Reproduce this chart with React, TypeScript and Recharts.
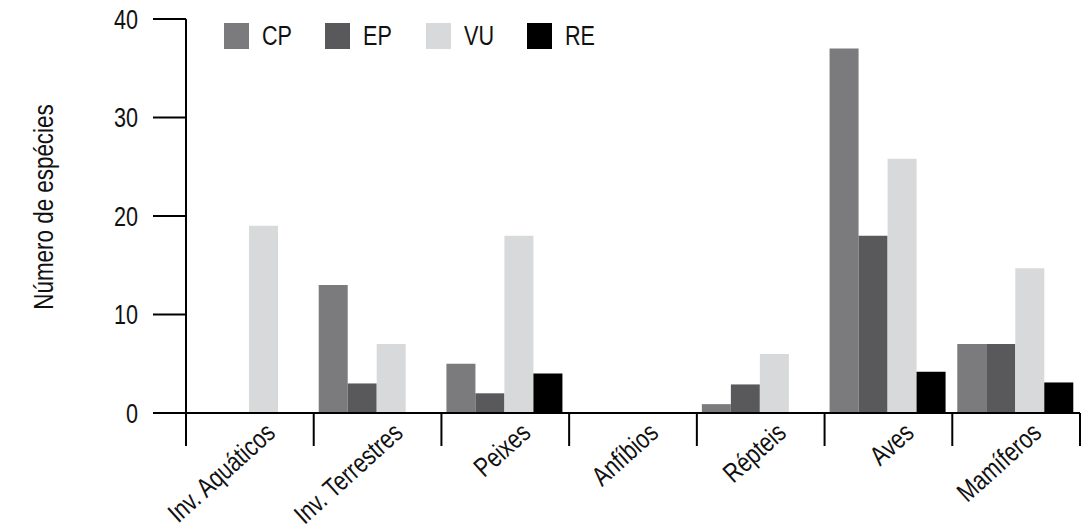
import { BarChart, Bar, XAxis, YAxis } from 'recharts'

const categories = [
  'Inv. Aquáticos',
  'Inv. Terrestres',
  'Peixes',
  'Anfíbios',
  'Répteis',
  'Aves',
  'Mamíferos',
]
const cpValues = [0, 13, 5, 0, 0.9, 37, 7]
const epValues = [0, 3, 2, 0, 2.9, 18, 7]
const vuValues = [19, 7, 18, 0, 6, 25.8, 14.7]
const reValues = [0, 0, 4, 0, 0, 4.2, 3.1]
const yTicks = [0, 10, 20, 30, 40]

const series = [
  { key: 'CP', color: '#7b7b7d' },
  { key: 'EP', color: '#59595b' },
  { key: 'VU', color: '#d8d9db' },
  { key: 'RE', color: '#000000' },
]

const data = categories.map((name, i) => ({
  name,
  CP: cpValues[i],
  EP: epValues[i],
  VU: vuValues[i],
  RE: reValues[i],
}))

// condensed look: regular sans squeezed horizontally
const FONT = "'Liberation Sans', Arial, sans-serif"
const SQUEEZE = 0.8
const FONT_SIZE = 27
const WIDTH = 1090
const HEIGHT = 531
const PLOT_LEFT = 186
const PLOT_RIGHT = 10
const BAND = (WIDTH - PLOT_LEFT - PLOT_RIGHT) / categories.length

function CategoryTick({ x, y, payload, index }: any) {
  const half = BAND / 2
  const tx = x + 27
  const ty = y + 22
  return (
    <g>
      <line x1={x - half} x2={x - half} y1={y} y2={y + 33} stroke="#000" strokeWidth={2} />
      {index === categories.length - 1 && (
        <line x1={x + half} x2={x + half} y1={y} y2={y + 33} stroke="#000" strokeWidth={2} />
      )}
      <text
        textAnchor="end"
        transform={`translate(${tx}, ${ty}) rotate(-42) scale(${SQUEEZE}, 1)`}
        fontSize={FONT_SIZE}
        fontFamily={FONT}
        fill="#111"
      >
        {payload.value}
      </text>
    </g>
  )
}

function ValueTick({ x, y, payload }: any) {
  return (
    <text
      textAnchor="end"
      dy="0.36em"
      transform={`translate(${x}, ${y}) scale(${SQUEEZE}, 1)`}
      fontSize={FONT_SIZE}
      fontFamily={FONT}
      fill="#111"
    >
      {payload.value}
    </text>
  )
}

export default function App() {
  return (
    <div style={{ position: 'absolute', left: 0, top: 0, width: WIDTH, height: HEIGHT, background: '#fff' }}>
      <BarChart
        width={WIDTH}
        height={HEIGHT}
        data={data}
        margin={{ top: 19, right: PLOT_RIGHT, left: 0, bottom: 0 }}
        barCategoryGap={5}
        barGap={0}
      >
        <XAxis
          dataKey="name"
          height={118}
          interval={0}
          tickLine={false}
          tickSize={0}
          tickMargin={0}
          axisLine={{ stroke: '#000', strokeWidth: 2 }}
          tick={<CategoryTick />}
        />
        <YAxis
          width={PLOT_LEFT}
          domain={[0, 40]}
          ticks={yTicks}
          tickSize={33}
          tickMargin={15}
          axisLine={{ stroke: '#000', strokeWidth: 2 }}
          tickLine={{ stroke: '#000', strokeWidth: 2 }}
          tick={<ValueTick />}
          label={() => (
            <text
              transform={`translate(53, 207) rotate(-90) scale(${SQUEEZE}, 1)`}
              textAnchor="middle"
              fontSize={28}
              fontFamily={FONT}
              fill="#111"
            >
              Número de espécies
            </text>
          )}
        />
        {series.map((s) => (
          <Bar key={s.key} dataKey={s.key} fill={s.color} isAnimationActive={false} />
        ))}
      </BarChart>
      <div
        style={{
          position: 'absolute',
          left: 224,
          top: 23,
          display: 'flex',
          fontFamily: FONT,
          fontSize: FONT_SIZE,
          color: '#111',
        }}
      >
        {series.map((s) => (
          <div key={s.key} style={{ width: 101, display: 'flex', alignItems: 'center' }}>
            <span style={{ width: 25, height: 26, background: s.color, display: 'inline-block' }} />
            <span
              style={{
                marginLeft: 13,
                lineHeight: '26px',
                display: 'inline-block',
                transform: `scaleX(${SQUEEZE})`,
                transformOrigin: 'left center',
              }}
            >
              {s.key}
            </span>
          </div>
        ))}
      </div>
    </div>
  )
}
